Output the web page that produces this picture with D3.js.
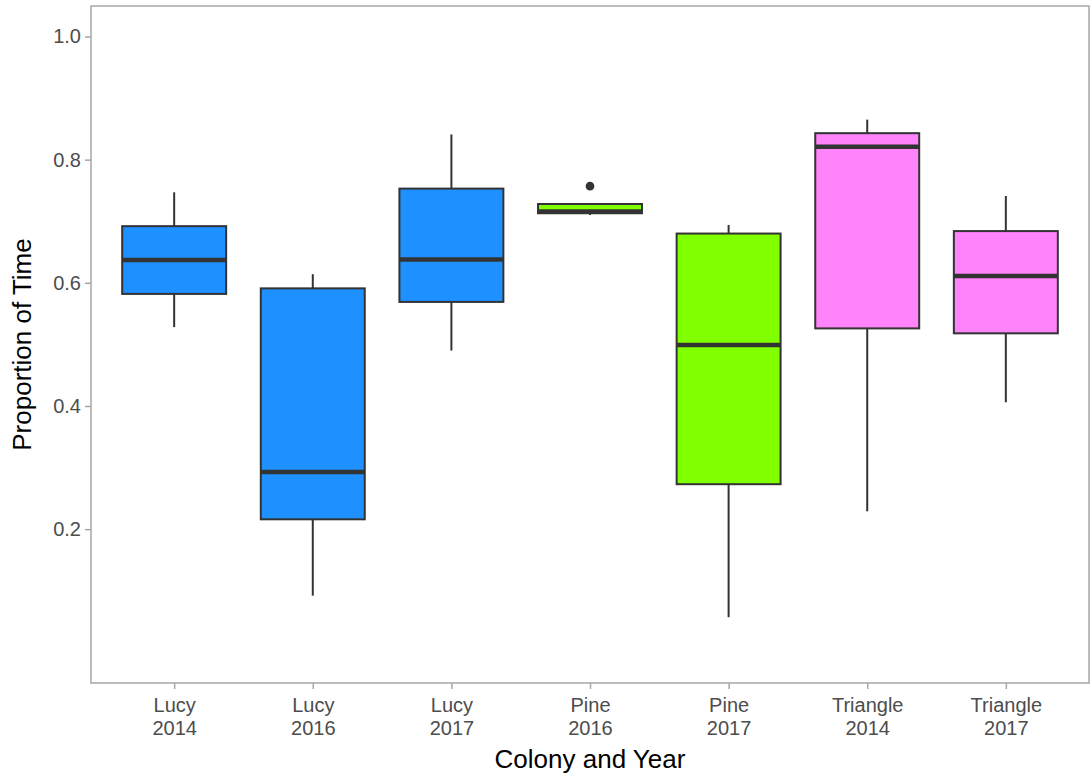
<!DOCTYPE html>
<html>
<head>
<meta charset="utf-8">
<script src="https://cdn.jsdelivr.net/npm/d3@7"></script>
<style>
  html, body { margin: 0; padding: 0; background: #fff; }
  svg { display: block; font-family: "Liberation Sans", Arial, sans-serif; }
</style>
</head>
<body>
<svg id="chart" width="1091" height="778"></svg>
<script>
// ---- Data ----
const colonies   = ["Lucy", "Lucy", "Lucy", "Pine", "Pine", "Triangle", "Triangle"];
const years      = ["2014", "2016", "2017", "2016", "2017", "2014", "2017"];
const whiskerLow = [0.528, 0.092, 0.490, 0.710, 0.057, 0.229, 0.406];
const q1         = [0.582, 0.216, 0.569, 0.713, 0.273, 0.526, 0.518];
const medians    = [0.637, 0.293, 0.638, 0.716, 0.499, 0.821, 0.611];
const q3         = [0.692, 0.591, 0.753, 0.728, 0.680, 0.843, 0.684];
const whiskerHigh= [0.747, 0.614, 0.841, 0.728, 0.694, 0.865, 0.741];
const outliers   = [[], [], [], [0.757], [], [], []];
const colonyColors = { "Lucy": "#1E90FF", "Pine": "#7FFF00", "Triangle": "#FF83FA" };
const yTicks = [0.2, 0.4, 0.6, 0.8, 1.0];

// ---- Layout ----
const svg = d3.select("#chart");
const margin = { left: 91, right: 2, top: 6, bottom: 95 };
const W = 1091, H = 778;
const x0 = margin.left, x1 = W - margin.right;
const y0 = margin.top, y1 = H - margin.bottom;

const cats = colonies.map((c, i) => c + "\n" + years[i]);
const data = cats.map((k, i) => ({
  key: k, colony: colonies[i], year: years[i],
  lo: whiskerLow[i], q1: q1[i], med: medians[i], q3: q3[i], hi: whiskerHigh[i],
  out: outliers[i]
}));

// discrete scale with ggplot-like 0.6 expansion
const x = d3.scalePoint().domain(cats).range([x0, x1]).padding(0.6);
const step = x.step();
const boxW = step * 0.75;

const y = d3.scaleLinear().domain([-0.0498, 1.0495]).range([y1, y0]);

// panel background
svg.append("rect").attr("x", x0).attr("y", y0)
  .attr("width", x1 - x0).attr("height", y1 - y0)
  .attr("fill", "#fff");

// boxes
const g = svg.append("g");
const boxes = g.selectAll("g.box").data(data).join("g").attr("class", "box");

boxes.append("line")
  .attr("x1", d => x(d.key)).attr("x2", d => x(d.key))
  .attr("y1", d => y(d.hi)).attr("y2", d => y(d.q3))
  .attr("stroke", "#333").attr("stroke-width", 2);
boxes.append("line")
  .attr("x1", d => x(d.key)).attr("x2", d => x(d.key))
  .attr("y1", d => y(d.q1)).attr("y2", d => y(d.lo))
  .attr("stroke", "#333").attr("stroke-width", 2);

boxes.append("rect")
  .attr("x", d => x(d.key) - boxW / 2)
  .attr("y", d => y(d.q3))
  .attr("width", boxW)
  .attr("height", d => y(d.q1) - y(d.q3))
  .attr("fill", d => colonyColors[d.colony])
  .attr("stroke", "#333").attr("stroke-width", 2);

boxes.append("line")
  .attr("x1", d => x(d.key) - boxW / 2).attr("x2", d => x(d.key) + boxW / 2)
  .attr("y1", d => y(d.med)).attr("y2", d => y(d.med))
  .attr("stroke", "#333").attr("stroke-width", 4.5);

boxes.selectAll("circle").data(d => d.out.map(v => ({ key: d.key, v })))
  .join("circle")
  .attr("cx", d => x(d.key)).attr("cy", d => y(d.v))
  .attr("r", 4.3).attr("fill", "#333");

// panel border
svg.append("rect").attr("x", x0).attr("y", y0)
  .attr("width", x1 - x0).attr("height", y1 - y0)
  .attr("fill", "none").attr("stroke", "#a6a6a6").attr("stroke-width", 1.5);

// y axis
const yAxis = d3.axisLeft(y).tickValues(yTicks).tickFormat(d3.format(".1f"))
  .tickSize(6).tickPadding(4);
const ya = svg.append("g").attr("transform", `translate(${x0},0)`).call(yAxis);
ya.select(".domain").remove();
ya.selectAll(".tick line").attr("stroke", "#a6a6a6").attr("stroke-width", 1.5);
ya.selectAll(".tick text").attr("fill", "#4d4d4d").attr("font-size", 20)
  .attr("font-family", "Liberation Sans, Arial, sans-serif");

// x axis
const xAxis = d3.axisBottom(x).tickSize(6).tickPadding(4).tickFormat("");
const xa = svg.append("g").attr("transform", `translate(0,${y1})`).call(xAxis);
xa.select(".domain").remove();
xa.selectAll(".tick line").attr("stroke", "#a6a6a6").attr("stroke-width", 1.5);
xa.selectAll(".tick").each(function(d) {
  const parts = d.split("\n");
  const t = d3.select(this).append("text")
    .attr("fill", "#4d4d4d").attr("font-size", 20)
    .attr("text-anchor", "middle")
    .attr("font-family", "Liberation Sans, Arial, sans-serif");
  parts.forEach((p, i) => {
    t.append("tspan").attr("x", 0).attr("y", 29 + i * 23).text(p);
  });
});

// axis titles
svg.append("text")
  .attr("x", (x0 + x1) / 2).attr("y", 768)
  .attr("text-anchor", "middle").attr("font-size", 26).attr("fill", "#000")
  .text("Colony and Year");
svg.append("text")
  .attr("transform", `translate(31,${(y0 + y1) / 2}) rotate(-90)`)
  .attr("text-anchor", "middle").attr("font-size", 26).attr("fill", "#000")
  .text("Proportion of Time");
</script>
</body>
</html>
